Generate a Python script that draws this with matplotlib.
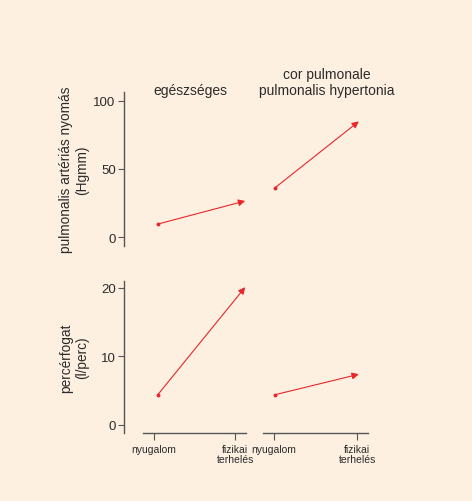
import matplotlib
matplotlib.use("Agg")
import matplotlib.pyplot as plt

plt.rcParams['font.family'] = ['Liberation Sans', 'DejaVu Sans']

# data
conditions = ["nyugalom", "fizikai\nterhelés"]
groups = ["egészséges", "cor pulmonale\npulmonalis hypertonia"]
x_pos = [[0.05, 1.12], [0.01, 1.02]]        # where the arrows start/end per group
pressure = [[9.5, 26.5], [36, 85]]          # Hgmm
cardiac_output = [[4.4, 20.1], [4.4, 7.4]]  # l/perc
pressure_ticks = [0, 50, 100]
output_ticks = [0, 10, 20]

bg = "#fdf0e1"
red = "#e8262a"
ink = "#2b2b2b"
spine_col = "#555555"

W, H = 472, 502
fig = plt.figure(figsize=(W / 100, H / 100), dpi=100, facecolor=bg)


def px_axes(x0, x1, y0, y1):
    # pixel box (from top-left) -> figure fraction
    return fig.add_axes([x0 / W, 1 - y1 / H, (x1 - x0) / W, (y1 - y0) / H])


def px_text(x, y, s, **kw):
    fig.text(x / W, 1 - y / H, s, ha="center", va="center", color=ink, **kw)


def style(ax, show_y, show_x, ylim, yticks):
    ax.set_facecolor("none")
    ax.set_xlim(-0.13, 1.13)
    ax.set_ylim(*ylim)
    for s in ["top", "right"]:
        ax.spines[s].set_visible(False)
    ax.spines["left"].set_visible(show_y)
    ax.spines["bottom"].set_visible(show_x)
    for s in ["left", "bottom"]:
        ax.spines[s].set_color(spine_col)
        ax.spines[s].set_linewidth(1.0)
    if show_y:
        ax.spines["left"].set_position(("outward", 19 * 0.72))
        ax.set_yticks(yticks)
        ax.tick_params(axis="y", length=4, color=spine_col, labelsize=9.5,
                       labelcolor=ink, pad=2)
    else:
        ax.set_yticks([])
    if show_x:
        ax.set_xticks([0, 1])
        ax.set_xticklabels(conditions, fontsize=7.5, color=ink, linespacing=1.0)
        ax.tick_params(axis="x", length=5, color=spine_col, pad=3)
    else:
        ax.set_xticks([])


def arrow(ax, xs, vals):
    ax.plot([xs[0]], [vals[0]], "o", color=red, markersize=1.8)
    ax.annotate("", xy=(xs[1], vals[1]), xytext=(xs[0], vals[0]),
                arrowprops=dict(arrowstyle="-|>", color=red, lw=0.8,
                                mutation_scale=10, shrinkA=0, shrinkB=0))


top_l = px_axes(143, 246, 93, 247)
top_r = px_axes(263, 368, 93, 247)
bot_l = px_axes(143, 246, 282, 434)
bot_r = px_axes(263, 368, 282, 434)

plim = (-6.6, 106.6)
olim = (-1.17, 21.0)
style(top_l, True, False, plim, pressure_ticks)
style(top_r, False, False, plim, pressure_ticks)
style(bot_l, True, True, olim, output_ticks)
style(bot_r, False, True, olim, output_ticks)

arrow(top_l, x_pos[0], pressure[0])
arrow(top_r, x_pos[1], pressure[1])
arrow(bot_l, x_pos[0], cardiac_output[0])
arrow(bot_r, x_pos[1], cardiac_output[1])

px_text(190, 91, groups[0], fontsize=10)
px_text(327, 83, groups[1], fontsize=10, linespacing=1.2)
px_text(74, 170, "pulmonalis artériás nyomás\n(Hgmm)", fontsize=9.8,
        rotation=90, linespacing=1.2)
px_text(74, 358, "percérfogat\n(l/perc)", fontsize=9.8, rotation=90,
        linespacing=1.2)

fig.savefig("out.png", dpi=100, facecolor=bg)
